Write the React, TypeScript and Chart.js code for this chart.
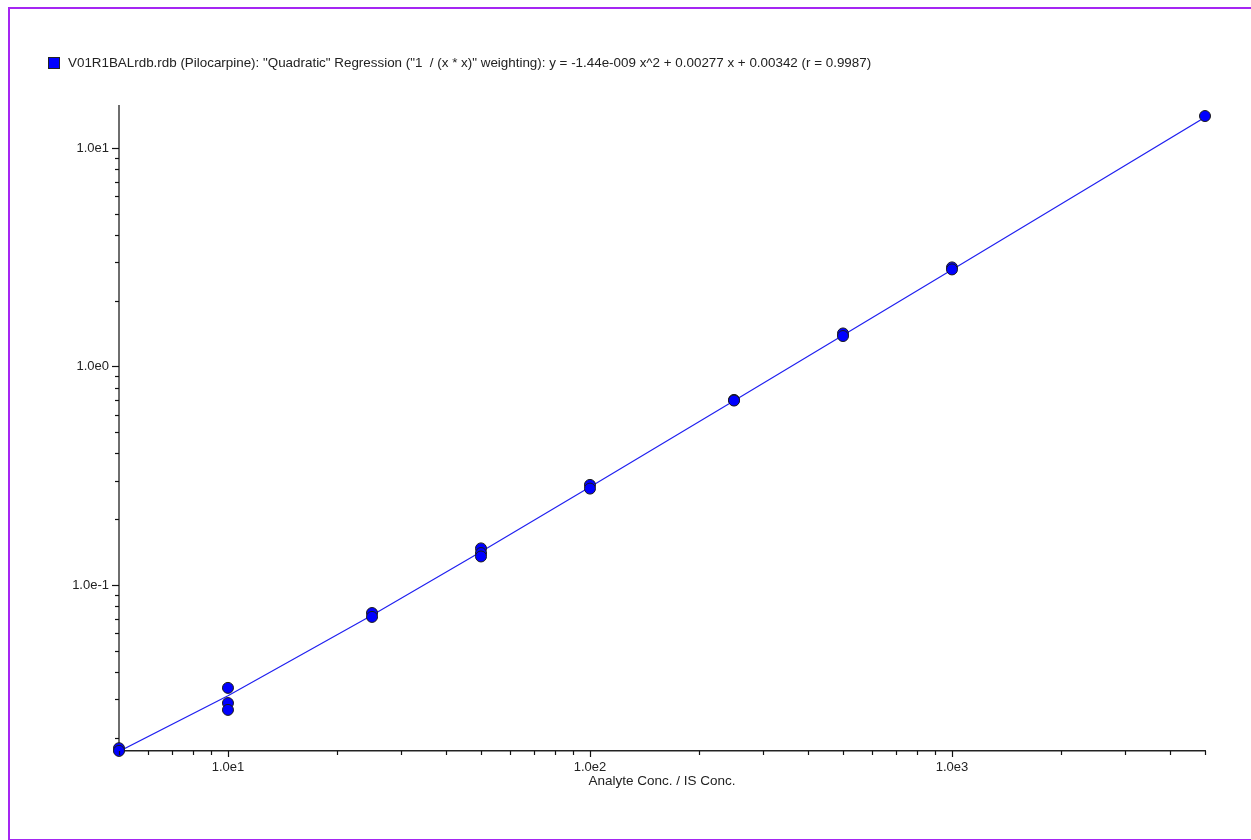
import React, { useEffect, useRef } from "react";
import { Chart, registerables } from "chart.js";

Chart.register(...registerables);

// Calibration standards: concentration ratio and measured response ratio
const standardConc = [5, 5, 10, 10, 10, 25, 25, 50, 50, 50, 100, 100, 250, 250, 500, 500, 1000, 1000, 5000];
const standardResp = [0.0179, 0.0174, 0.0338, 0.0288, 0.0268, 0.0744, 0.0714, 0.147, 0.140, 0.135, 0.287, 0.276, 0.703, 0.698, 1.416, 1.378, 2.84, 2.78, 14.0];

// Regression curve
const fitConc = [5, 10, 25, 50, 100, 250, 500, 1000, 2500, 5000];
const fitResp = [0.0173, 0.0311, 0.0727, 0.142, 0.281, 0.696, 1.388, 2.77, 6.92, 13.82];

const xTickValues = [5, 6, 7, 8, 9, 10, 20, 30, 40, 50, 60, 70, 80, 90, 100, 200, 300, 400, 500, 600, 700, 800, 900, 1000, 2000, 3000, 4000, 5000];
const yTickValues = [0.02, 0.03, 0.04, 0.05, 0.06, 0.07, 0.08, 0.09, 0.1, 0.2, 0.3, 0.4, 0.5, 0.6, 0.7, 0.8, 0.9, 1, 2, 3, 4, 5, 6, 7, 8, 9, 10];
const xMajorLabels: Record<number, string> = { 10: "1.0e1", 100: "1.0e2", 1000: "1.0e3" };
const yMajorLabels: Record<number, string> = { 0.1: "1.0e-1", 1: "1.0e0", 10: "1.0e1" };

const legendText = 'V01R1BALrdb.rdb (Pilocarpine): "Quadratic" Regression ("1  / (x * x)" weighting): y = -1.44e-009 x^2 + 0.00277 x + 0.00342 (r = 0.9987)';
const xTitle = "Analyte Conc. / IS Conc.";

const FONT = "'Liberation Sans', Arial, Helvetica, sans-serif";

const tickPlugin = {
  id: "customTicks",
  afterDraw(chart: any) {
    const ctx = chart.ctx;
    const xs = chart.scales.x;
    const ys = chart.scales.y;
    const area = chart.chartArea;
    ctx.save();
    ctx.strokeStyle = "#111";
    ctx.lineWidth = 1.2;
    for (const v of xTickValues) {
      const px = Math.round(xs.getPixelForValue(v)) + 0.5;
      const major = xMajorLabels[v] !== undefined;
      ctx.beginPath();
      ctx.moveTo(px, area.bottom);
      ctx.lineTo(px, area.bottom + (major ? 6 : 4));
      ctx.stroke();
    }
    for (const v of yTickValues) {
      const py = Math.round(ys.getPixelForValue(v)) + 0.5;
      const major = yMajorLabels[v] !== undefined;
      ctx.beginPath();
      ctx.moveTo(area.left, py);
      ctx.lineTo(area.left - (major ? 7 : 4), py);
      ctx.stroke();
    }
    ctx.restore();
  },
};

export default function App() {
  const canvasRef = useRef<HTMLCanvasElement | null>(null);

  useEffect(() => {
    if (!canvasRef.current) return;
    const chart = new Chart(canvasRef.current, {
      type: "scatter",
      data: {
        datasets: [
          {
            type: "scatter",
            label: "Standards",
            data: standardConc.map((x, i) => ({ x, y: standardResp[i] })),
            backgroundColor: "#0000FF",
            borderColor: "#1a1a1a",
            borderWidth: 1,
            pointRadius: 5.5,
            clip: false,
          } as any,
          {
            type: "line",
            label: "Fit",
            data: fitConc.map((x, i) => ({ x, y: fitResp[i] })),
            borderColor: "#2020F0",
            borderWidth: 1.2,
            pointRadius: 0,
            fill: false,
            tension: 0,
          } as any,
        ],
      },
      options: {
        animation: false,
        responsive: false,
        events: [],
        layout: { padding: { left: 0, top: 106, right: 46, bottom: 49 } },
        plugins: {
          legend: { display: false },
          tooltip: { enabled: false },
        },
        scales: {
          x: {
            type: "logarithmic",
            min: 5,
            max: 5000,
            afterBuildTicks: (scale: any) => {
              scale.ticks = xTickValues.map((v) => ({ value: v }));
            },
            afterFit: (scale: any) => {
              scale.height = 40;
            },
            grid: { display: true, drawOnChartArea: false, drawTicks: false },
            border: { display: true, color: "#222", width: 1.5 },
            ticks: {
              autoSkip: false,
              maxRotation: 0,
              padding: 9,
              color: "#222",
              font: { family: FONT, size: 13 },
              callback: (v: any) => xMajorLabels[Number(v)] ?? "",
            },
            title: {
              display: true,
              text: xTitle,
              color: "#222",
              font: { family: FONT, size: 13.5 },
              padding: { top: 0, bottom: 2 },
            },
          },
          y: {
            type: "logarithmic",
            min: 0.01738,
            max: 15.56,
            afterBuildTicks: (scale: any) => {
              scale.ticks = yTickValues.map((v) => ({ value: v }));
            },
            afterFit: (scale: any) => {
              scale.width = 119;
            },
            grid: { display: true, drawOnChartArea: false, drawTicks: false },
            border: { display: true, color: "#6e6e6e", width: 2 },
            ticks: {
              autoSkip: false,
              padding: 10,
              color: "#222",
              font: { family: FONT, size: 13 },
              callback: (v: any) => {
                const n = Number(v);
                for (const k of Object.keys(yMajorLabels)) {
                  if (Math.abs(Number(k) - n) / Number(k) < 1e-6) return yMajorLabels[Number(k)];
                }
                return "";
              },
            },
          },
        },
      } as any,
      plugins: [tickPlugin],
    });
    return () => chart.destroy();
  }, []);

  return (
    <div style={{ position: "fixed", left: 0, top: 0, width: 1251, height: 840, overflow: "hidden", background: "#fff" }}>
      <div
        style={{
          position: "absolute",
          left: 8,
          top: 7,
          width: 1300,
          height: 830,
          border: "2px solid #A526F2",
          boxSizing: "content-box",
        }}
      />
      <canvas ref={canvasRef} width={1251} height={840} style={{ position: "absolute", left: 0, top: 0 }} />
      <div
        style={{
          position: "absolute",
          left: 48,
          top: 57,
          width: 10,
          height: 10,
          background: "#0000FF",
          border: "1px solid #222",
        }}
      />
      <div
        style={{
          position: "absolute",
          left: 68,
          top: 55,
          fontFamily: FONT,
          fontSize: 13.4,
          lineHeight: "16px",
          color: "#222",
          whiteSpace: "pre",
        }}
      >
        {legendText}
      </div>
    </div>
  );
}
